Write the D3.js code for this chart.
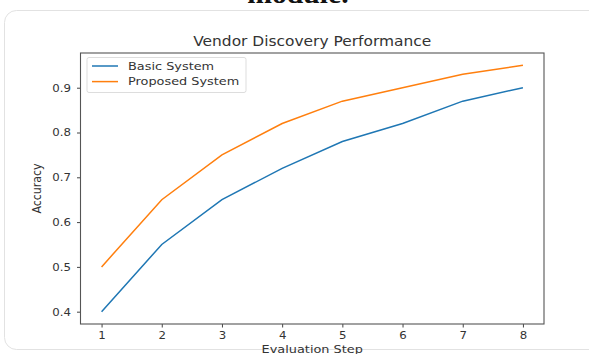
<!DOCTYPE html>
<html>
<head>
<meta charset="utf-8">
<script src="https://cdn.jsdelivr.net/npm/d3@7"></script>
<style>
  body { margin: 0; background: #fff; overflow: hidden; }
  text { font-family: "DejaVu Sans", sans-serif; fill: #333; }
</style>
</head>
<body>
<div class="container"></div>
<script>
// data
let steps = [1, 2, 3, 4, 5, 6, 7, 8];
let basic = [0.40, 0.55, 0.65, 0.72, 0.78, 0.82, 0.87, 0.90];
let proposed = [0.50, 0.65, 0.75, 0.82, 0.87, 0.90, 0.93, 0.95];
let yTicks = [0.4, 0.5, 0.6, 0.7, 0.8, 0.9];
let seriesNames = ["Basic System", "Proposed System"];
let colors = ["#1f77b4", "#ff7f0e"];

let W = 589, H = 354;
let sx = 1.17; // the screenshot is stretched sideways a bit
let margin = {top: 53, right: 45, bottom: 30, left: 80.5},
  width = 544 - margin.left,
  height = 324 - margin.top;

let svg = d3.select(".container").append("svg")
    .attr("width", W)
    .attr("height", H);

// page text cut off above the card
svg.append("text")
  .text("module.")
  .attr("transform", "translate(298,3) scale(1.1,1)")
  .attr("text-anchor", "middle")
  .style("font-family", "'Liberation Serif', serif")
  .style("font-weight", "bold")
  .style("font-size", "27px")
  .style("fill", "#111");

// card
svg.append("rect")
  .attr("x", 4.5)
  .attr("y", 10.5)
  .attr("width", 640)
  .attr("height", 339)
  .attr("rx", 12)
  .style("fill", "#fff")
  .style("stroke", "#e2e2e2");

let g = svg.append("g")
  .attr("transform", "translate(" + margin.left + "," + margin.top + ")");

// matplotlib-style 5% padding
let x = d3.scaleLinear().domain([0.65, 8.35]).range([0, width]);
let y = d3.scaleLinear().domain([0.3725, 0.9775]).range([height, 0]);

let xAxis = g.append("g")
  .attr("transform", "translate(0," + height + ")")
  .call(d3.axisBottom(x).tickValues(steps).tickFormat(d3.format("d")).tickSize(3.5).tickPadding(4));
let yAxis = g.append("g")
  .call(d3.axisLeft(y).tickValues(yTicks).tickFormat(d3.format(".1f")).tickSize(3.5).tickPadding(4));

[xAxis, yAxis].forEach(a => {
  a.select(".domain").remove();
  a.selectAll("line").style("stroke", "#444");
  a.selectAll("text").style("font-size", "10.5px").style("fill", "#333")
    .style("font-family", "'DejaVu Sans', sans-serif");
});
yAxis.selectAll(".tick text")
  .attr("x", null)
  .attr("transform", "translate(-9.5,0) scale(1.12,1)");
xAxis.selectAll(".tick text")
  .attr("transform", "scale(1.12,1)");

// frame
g.append("rect")
  .attr("width", width)
  .attr("height", height)
  .style("fill", "none")
  .style("stroke", "#555")
  .style("stroke-width", 1.1);

let line = d3.line()
  .x((d, i) => x(steps[i]))
  .y(d => y(d));

[basic, proposed].forEach((s, i) => {
  g.append("path")
    .datum(s)
    .attr("d", line)
    .style("fill", "none")
    .style("stroke", colors[i])
    .style("stroke-width", 1.5);
});

// title
g.append("text")
  .text("Vendor Discovery Performance")
  .attr("transform", "translate(" + (width / 2) + ",-7) scale(" + sx + ",1)")
  .attr("text-anchor", "middle")
  .style("font-size", "13.2px");

// axis labels
g.append("text")
  .text("Evaluation Step")
  .attr("transform", "translate(" + (width / 2) + "," + (height + 29) + ") scale(" + sx + ",1)")
  .attr("text-anchor", "middle")
  .style("font-size", "11px");

g.append("text")
  .text("Accuracy")
  .attr("transform", "translate(" + (-39.5) + "," + (height / 2) + ") rotate(-90) scale(1," + sx + ")")
  .attr("text-anchor", "middle")
  .style("font-size", "11px");

// legend
let leg = g.append("g").attr("transform", "translate(6.5,4.5)");
leg.append("rect")
  .attr("width", 159)
  .attr("height", 35)
  .attr("rx", 2)
  .style("fill", "#fff")
  .style("stroke", "#ddd");
seriesNames.forEach((n, i) => {
  let ly = 8.5 + i * 15.6;
  leg.append("line")
    .attr("x1", 5).attr("x2", 31)
    .attr("y1", ly).attr("y2", ly)
    .style("stroke", colors[i])
    .style("stroke-width", 1.5);
  leg.append("text")
    .text(n)
    .attr("transform", "translate(41," + (ly + 3.8) + ") scale(" + sx + ",1)")
    .style("font-size", "11px");
});
</script>
</body>
</html>
